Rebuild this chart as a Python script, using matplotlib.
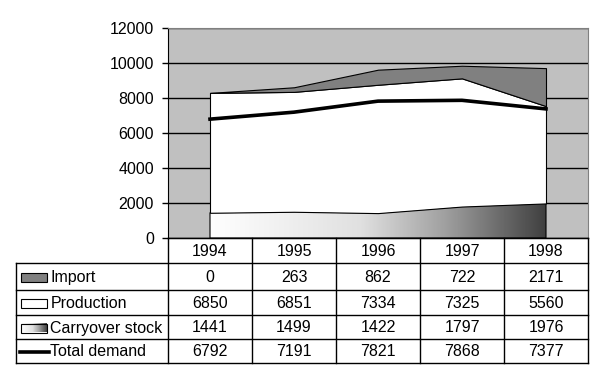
import numpy as np
import matplotlib
matplotlib.use("Agg")
import matplotlib.pyplot as plt
from matplotlib.colors import LinearSegmentedColormap
from matplotlib.patches import Rectangle

plt.rcParams['font.family'] = ['Liberation Sans', 'DejaVu Sans']

years = ['1994', '1995', '1996', '1997', '1998']
import_ = [0, 263, 862, 722, 2171]
production = [6850, 6851, 7334, 7325, 5560]
carryover = [1441, 1499, 1422, 1797, 1976]
total_demand = [6792, 7191, 7821, 7868, 7377]
row_names = ['Import', 'Production', 'Carryover stock', 'Total demand']

FS = 11.5
W, H = 600, 379
fig = plt.figure(figsize=(W / 100, H / 100), dpi=100)

# plot area in pixels
L, R, T, B = 168, 588, 28, 238
ax = fig.add_axes([L / W, 1 - B / H, (R - L) / W, (B - T) / H])
ax.set_facecolor('#c0c0c0')
ax.set_xlim(-0.5, 4.5)
ax.set_ylim(0, 12000)
ax.set_yticks(range(0, 12001, 2000))
ax.set_xticks([])
ax.yaxis.grid(True, color='black', linewidth=1)
ax.set_axisbelow(True)
ax.tick_params(axis='y', direction='out', length=4, width=1, pad=6, labelsize=FS)
for s in ['top', 'right']:
    ax.spines[s].set_color('#808080')
for s in ['left', 'bottom']:
    ax.spines[s].set_color('black')

x = np.arange(len(years))
c = np.array(carryover)
p = c + np.array(production)
t = p + np.array(import_)

# carryover stock with horizontal gradient
grad = LinearSegmentedColormap.from_list(
    'g', [(0, '#ffffff'), (0.45, '#e0e0e0'), (0.7, '#a0a0a0'), (1, '#404040')])
poly = ax.fill_between(x, 0, c, facecolor='none', edgecolor='black', linewidth=0.8, zorder=3)
img = ax.imshow(np.linspace(0, 1, 256).reshape(1, -1), cmap=grad, aspect='auto',
                extent=(0, 4, 0, 12000), zorder=2)
img.set_clip_path(poly.get_paths()[0], transform=ax.transData)
ax.set_xlim(-0.5, 4.5)
ax.set_ylim(0, 12000)

ax.fill_between(x, c, p, facecolor='white', edgecolor='black', linewidth=0.8, zorder=3)
ax.fill_between(x, p, t, facecolor='#808080', edgecolor='black', linewidth=0.8, zorder=3)
ax.plot(x, total_demand, color='black', linewidth=2.6, zorder=4)

# data table drawn in pixel coordinates
tx = fig.add_axes([0, 0, 1, 1])
tx.set_xlim(0, W)
tx.set_ylim(H, 0)
tx.axis('off')

col_edges = [L + i * (R - L) / 5 for i in range(6)]
row_edges = [238, 263, 290, 315, 339, 363]
lab_left = 16
lw = 1

# header row
tx.plot([L, R], [row_edges[0], row_edges[0]], color='black', lw=lw)
for i in range(5):
    tx.text((col_edges[i] + col_edges[i + 1]) / 2, (row_edges[0] + row_edges[1]) / 2 + 1,
            years[i], ha='center', va='center', fontsize=FS)
for y in row_edges[1:]:
    tx.plot([lab_left, R], [y, y], color='black', lw=lw)
for xe in col_edges:
    tx.plot([xe, xe], [row_edges[0], row_edges[-1]], color='black', lw=lw)
tx.plot([lab_left, lab_left], [row_edges[1], row_edges[-1]], color='black', lw=lw)

rows = [import_, production, carryover, total_demand]
for r, vals in enumerate(rows):
    yc = (row_edges[r + 1] + row_edges[r + 2]) / 2 + 1
    tx.text(50.5, yc, row_names[r], ha='left', va='center', fontsize=FS)
    for i, v in enumerate(vals):
        tx.text((col_edges[i] + col_edges[i + 1]) / 2, yc, str(v),
                ha='center', va='center', fontsize=FS)

# legend keys
def key_y(r):
    return (row_edges[r + 1] + row_edges[r + 2]) / 2 + 1

tx.add_patch(Rectangle((21, key_y(0) - 4.5), 26, 9, facecolor='#808080',
                       edgecolor='black', lw=0.8))
tx.add_patch(Rectangle((21, key_y(1) - 4.5), 26, 9, facecolor='white',
                       edgecolor='black', lw=0.8))
kimg = tx.imshow(np.linspace(0, 1, 64).reshape(1, -1), cmap=grad, aspect='auto',
                 extent=(21, 47, key_y(2) + 4.5, key_y(2) - 4.5), zorder=2)
tx.add_patch(Rectangle((21, key_y(2) - 4.5), 26, 9, facecolor='none',
                       edgecolor='black', lw=0.8, zorder=3))
tx.plot([20, 49], [key_y(3), key_y(3)], color='black', lw=2.6)
tx.set_xlim(0, W)
tx.set_ylim(H, 0)

fig.savefig('out.png', dpi=100)
